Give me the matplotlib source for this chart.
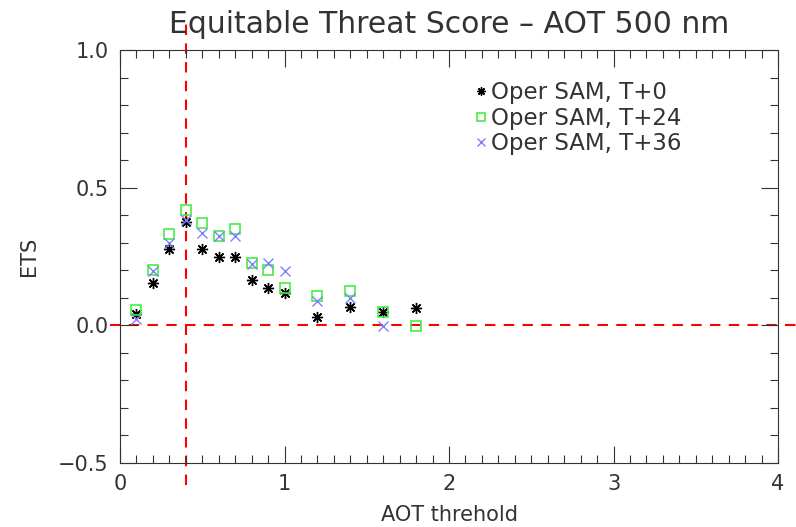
import matplotlib.pyplot as plt
from matplotlib.ticker import MultipleLocator

# AOT thresholds and ETS values
thresholds = [0.1, 0.2, 0.3, 0.4, 0.5, 0.6, 0.7, 0.8, 0.9, 1.0, 1.2, 1.4, 1.6, 1.8]
ets_t0 = [0.042, 0.154, 0.278, 0.374, 0.278, 0.248, 0.249, 0.163, 0.135, 0.117,
          0.029, 0.065, 0.050, 0.063]
ets_t24 = [0.054, 0.200, 0.330, 0.420, 0.370, 0.325, 0.350, 0.226, 0.200, 0.135,
           0.107, 0.123, 0.050, -0.002]
thresholds_t36 = [0.1, 0.2, 0.3, 0.4, 0.5, 0.6, 0.7, 0.8, 0.9, 1.0, 1.2, 1.4, 1.6]
ets_t36 = [0.023, 0.196, 0.300, 0.384, 0.335, 0.323, 0.323, 0.222, 0.226, 0.196,
           0.087, 0.099, -0.004]

ref_threshold = 0.4
txt = '#333333'

plt.rcParams['font.family'] = ['DejaVu Sans']

fig = plt.figure(figsize=(7.96, 5.27), dpi=100)
ax = fig.add_axes([0.1508, 0.1214, 0.8266, 0.7837])

ax.set_xlim(0, 4)
ax.set_ylim(-0.5, 1.0)

# reference lines, drawn past the frame like the original
ax.plot([-0.06, 4.12], [0, 0], color='red', linestyle=(0, (5, 4)), linewidth=1.5,
        clip_on=False, zorder=1)
ax.plot([ref_threshold, ref_threshold], [-0.58, 1.1], color='red',
        linestyle=(0, (5, 4)), linewidth=1.5, clip_on=False, zorder=1)

ax.plot(thresholds, ets_t0, linestyle='none', marker=(8, 2, 0), markersize=8,
        color='black', markeredgewidth=1.0, label='Oper SAM, T+0', zorder=3)
ax.plot(thresholds, ets_t24, linestyle='none', marker='s', markersize=7,
        markerfacecolor='none', markeredgecolor='#44ee44', markeredgewidth=1.2,
        label='Oper SAM, T+24', zorder=3)
ax.plot(thresholds_t36, ets_t36, linestyle='none', marker='x', markersize=7.5,
        color='#8080ff', markeredgewidth=1.0, label='Oper SAM, T+36', zorder=3)

ax.xaxis.set_major_locator(MultipleLocator(1))
ax.xaxis.set_minor_locator(MultipleLocator(0.1))
ax.yaxis.set_major_locator(MultipleLocator(0.5))
ax.yaxis.set_minor_locator(MultipleLocator(0.1))
ax.xaxis.set_major_formatter(plt.FuncFormatter(lambda v, p: f"{v:.0f}"))
ax.yaxis.set_major_formatter(plt.FuncFormatter(lambda v, p: f"{v:.1f}".replace('-', '\u2212')))

ax.tick_params(which='both', direction='in', top=True, right=True, labelsize=15,
               colors=txt, width=0.8)
ax.tick_params(which='major', length=12, pad=8)
ax.tick_params(which='minor', length=6)
for sp in ax.spines.values():
    sp.set_linewidth(0.8)
    sp.set_color(txt)

ax.set_title('Equitable Threat Score \u2013 AOT 500 nm', fontsize=21.5, pad=12,
             color=txt)
ax.set_xlabel('AOT threhold', fontsize=15, color=txt, labelpad=8)
ax.set_ylabel('ETS', fontsize=15, color=txt, labelpad=14)

ax.legend(loc='upper right', bbox_to_anchor=(0.885, 0.975), frameon=False,
          fontsize=16.5, handletextpad=0.1, handlelength=0.7, labelspacing=0.12,
          markerscale=0.75, labelcolor=txt)

fig.savefig('out.png', dpi=100)
